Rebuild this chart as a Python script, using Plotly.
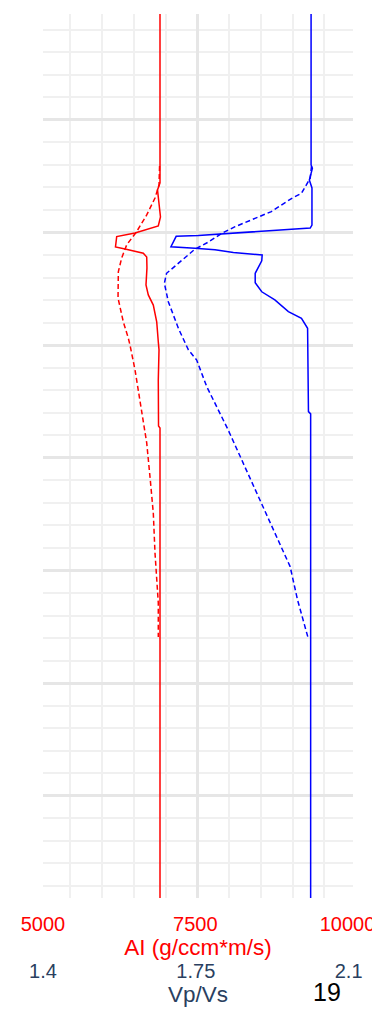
import plotly.graph_objects as go

# depth values (arbitrary units, increasing downward) and log values
ai_well_depth = [0.3, 7.80, 8.11, 9.31, 9.71, 10.02, 10.18, 10.64, 10.73, 10.92, 11.09, 11.57,
                 12.33, 12.77, 13.22, 13.96, 14.85, 15.21, 16.55, 18.59, 18.68, 39.54]
ai_well = [6921, 6921, 6880, 6929, 6893, 6511, 6210, 6190, 6347, 6647, 6703, 6707,
           6691, 6729, 6811, 6867, 6893, 6905, 6893, 6897, 6921, 6921]

ai_model_depth = [7.05, 7.89, 8.47, 9.22, 9.96, 10.55, 11.13, 11.74, 12.91, 13.96, 14.69, 14.99,
                  16.10, 17.88, 19.34, 20.85, 22.45, 24.22, 26.44, 27.95]
ai_model = [6914, 6905, 6839, 6703, 6538, 6374, 6292, 6237, 6232, 6318, 6401, 6428,
            6511, 6621, 6703, 6757, 6811, 6839, 6893, 6893]

vpvs_well_depth = [0.3, 7.00, 7.15, 7.67, 8.02, 9.67, 9.80, 9.87, 9.93, 10.01, 10.06, 10.13, 10.17,
                   10.63, 10.70, 10.77, 10.89, 10.95, 11.00, 11.26, 11.81, 12.23, 12.63, 12.99,
                   13.51, 13.81, 14.25, 17.95, 18.05, 39.54]
vpvs_well = [2.014, 2.014, 2.017, 2.010, 2.016, 2.016, 2.012, 1.962, 1.908, 1.858, 1.810, 1.756, 1.705,
             1.693, 1.748, 1.794, 1.836, 1.871, 1.902, 1.901, 1.886, 1.886, 1.901, 1.931,
             1.962, 1.992, 2.006, 2.008, 2.013, 2.013]

vpvs_model_depth = [7.05, 7.59, 8.26, 8.48, 9.07, 9.37, 9.74, 10.03, 10.43, 10.74, 11.37, 11.81,
                    12.25, 13.07, 14.25, 15.21, 15.66, 16.84, 18.76, 20.10, 21.87, 23.20, 24.83,
                    26.31, 27.20, 28.05]
vpvs_model = [2.015, 2.012, 1.992, 1.970, 1.923, 1.886, 1.840, 1.810, 1.778, 1.748, 1.710, 1.683,
              1.678, 1.687, 1.710, 1.733, 1.752, 1.775, 1.824, 1.855, 1.897, 1.927, 1.966,
              1.983, 1.996, 2.008]

ai_ticks = [5000, 7500, 10000]
ai_labels = ["5000", "7500", "10000"]
vpvs_ticks = [1.4, 1.75, 2.1]
vpvs_labels = ["1.4", "1.75", "2.1"]

font = "Arial, Liberation Sans, sans-serif"
red = "#ff0000"
blue = "#0000ff"
label_col = "#2a3f5f"

fig = go.Figure()

fig.add_trace(go.Scatter(x=ai_well, y=ai_well_depth, mode="lines", xaxis="x", yaxis="y",
                         line=dict(color=red, width=1.5), name="AI"))
fig.add_trace(go.Scatter(x=ai_model, y=ai_model_depth, mode="lines", xaxis="x", yaxis="y",
                         line=dict(color=red, width=1.5, dash="5px,3px"), name="AI model"))
fig.add_trace(go.Scatter(x=vpvs_well, y=vpvs_well_depth, mode="lines", xaxis="x2", yaxis="y",
                         line=dict(color=blue, width=1.5), name="Vp/Vs"))
fig.add_trace(go.Scatter(x=vpvs_model, y=vpvs_model_depth, mode="lines", xaxis="x2", yaxis="y",
                         line=dict(color=blue, width=1.5, dash="5px,3px"), name="Vp/Vs model"))
# empty trace so the grid-only axis gets drawn
fig.add_trace(go.Scatter(x=[], y=[], xaxis="x3", yaxis="y", showlegend=False, hoverinfo="skip"))

# the page body adds an 8px offset, so margins are 8px smaller on top/left
top_margin = 6
bottom_margin = 72
plot_h = 1013 - top_margin - bottom_margin
y_dom0 = 1 - 884 / plot_h

fig.update_layout(
    width=380, height=1013,
    margin=dict(l=35, r=35, t=top_margin, b=bottom_margin, autoexpand=False),
    paper_bgcolor="white", plot_bgcolor="white",
    showlegend=False,
    font=dict(family=font),
    yaxis=dict(
        domain=[y_dom0, 1], range=[39.54, 0.3], automargin=False,
        showticklabels=False, zeroline=False, showline=False,
        tick0=0, dtick=5, showgrid=True, gridcolor="#e6e6e6", gridwidth=3,
        minor=dict(dtick=1, showgrid=True, gridcolor="#f0f0f0", gridwidth=1.5),
    ),
    xaxis=dict(
        range=[5000, 10090], tickvals=ai_ticks, ticktext=ai_labels, anchor="y", automargin=False,
        showgrid=False, zeroline=False, showline=False, ticklabeloverflow="allow",
        ticks="outside", ticklen=8, tickcolor="rgba(0,0,0,0)",
        tickfont=dict(color=red, size=20, family=font),
        title=dict(text="AI (g/ccm*m/s)", font=dict(color=red, size=22.5, family=font), standoff=0),
    ),
    xaxis2=dict(
        range=[1.4, 2.11], tickvals=vpvs_ticks, ticktext=vpvs_labels, automargin=False,
        overlaying="x", anchor="free", position=0, side="bottom",
        showgrid=False, zeroline=False, showline=False, ticklabeloverflow="allow",
        ticks="outside", ticklen=4, tickcolor="rgba(0,0,0,0)",
        tickfont=dict(color=label_col, size=20, family=font),
        title=dict(text="Vp/Vs", font=dict(color=label_col, size=22.5, family=font), standoff=0),
    ),
    xaxis3=dict(
        range=[-4.854, 4.898], tickvals=[0], overlaying="x", anchor="y", automargin=False,
        showticklabels=False, zeroline=False, showline=False, ticks="",
        showgrid=True, gridcolor="#e6e6e6", gridwidth=3,
        minor=dict(tick0=0, dtick=1, showgrid=True, gridcolor="#f0f0f0", gridwidth=1.5),
    ),
    annotations=[dict(text="19", x=0.916, y=-(984 - (1013 - bottom_margin)) / plot_h,
                      xref="paper", yref="paper", xanchor="center", yanchor="middle",
                      showarrow=False, font=dict(color="black", size=25, family=font))],
)

fig.write_html("out.html")
